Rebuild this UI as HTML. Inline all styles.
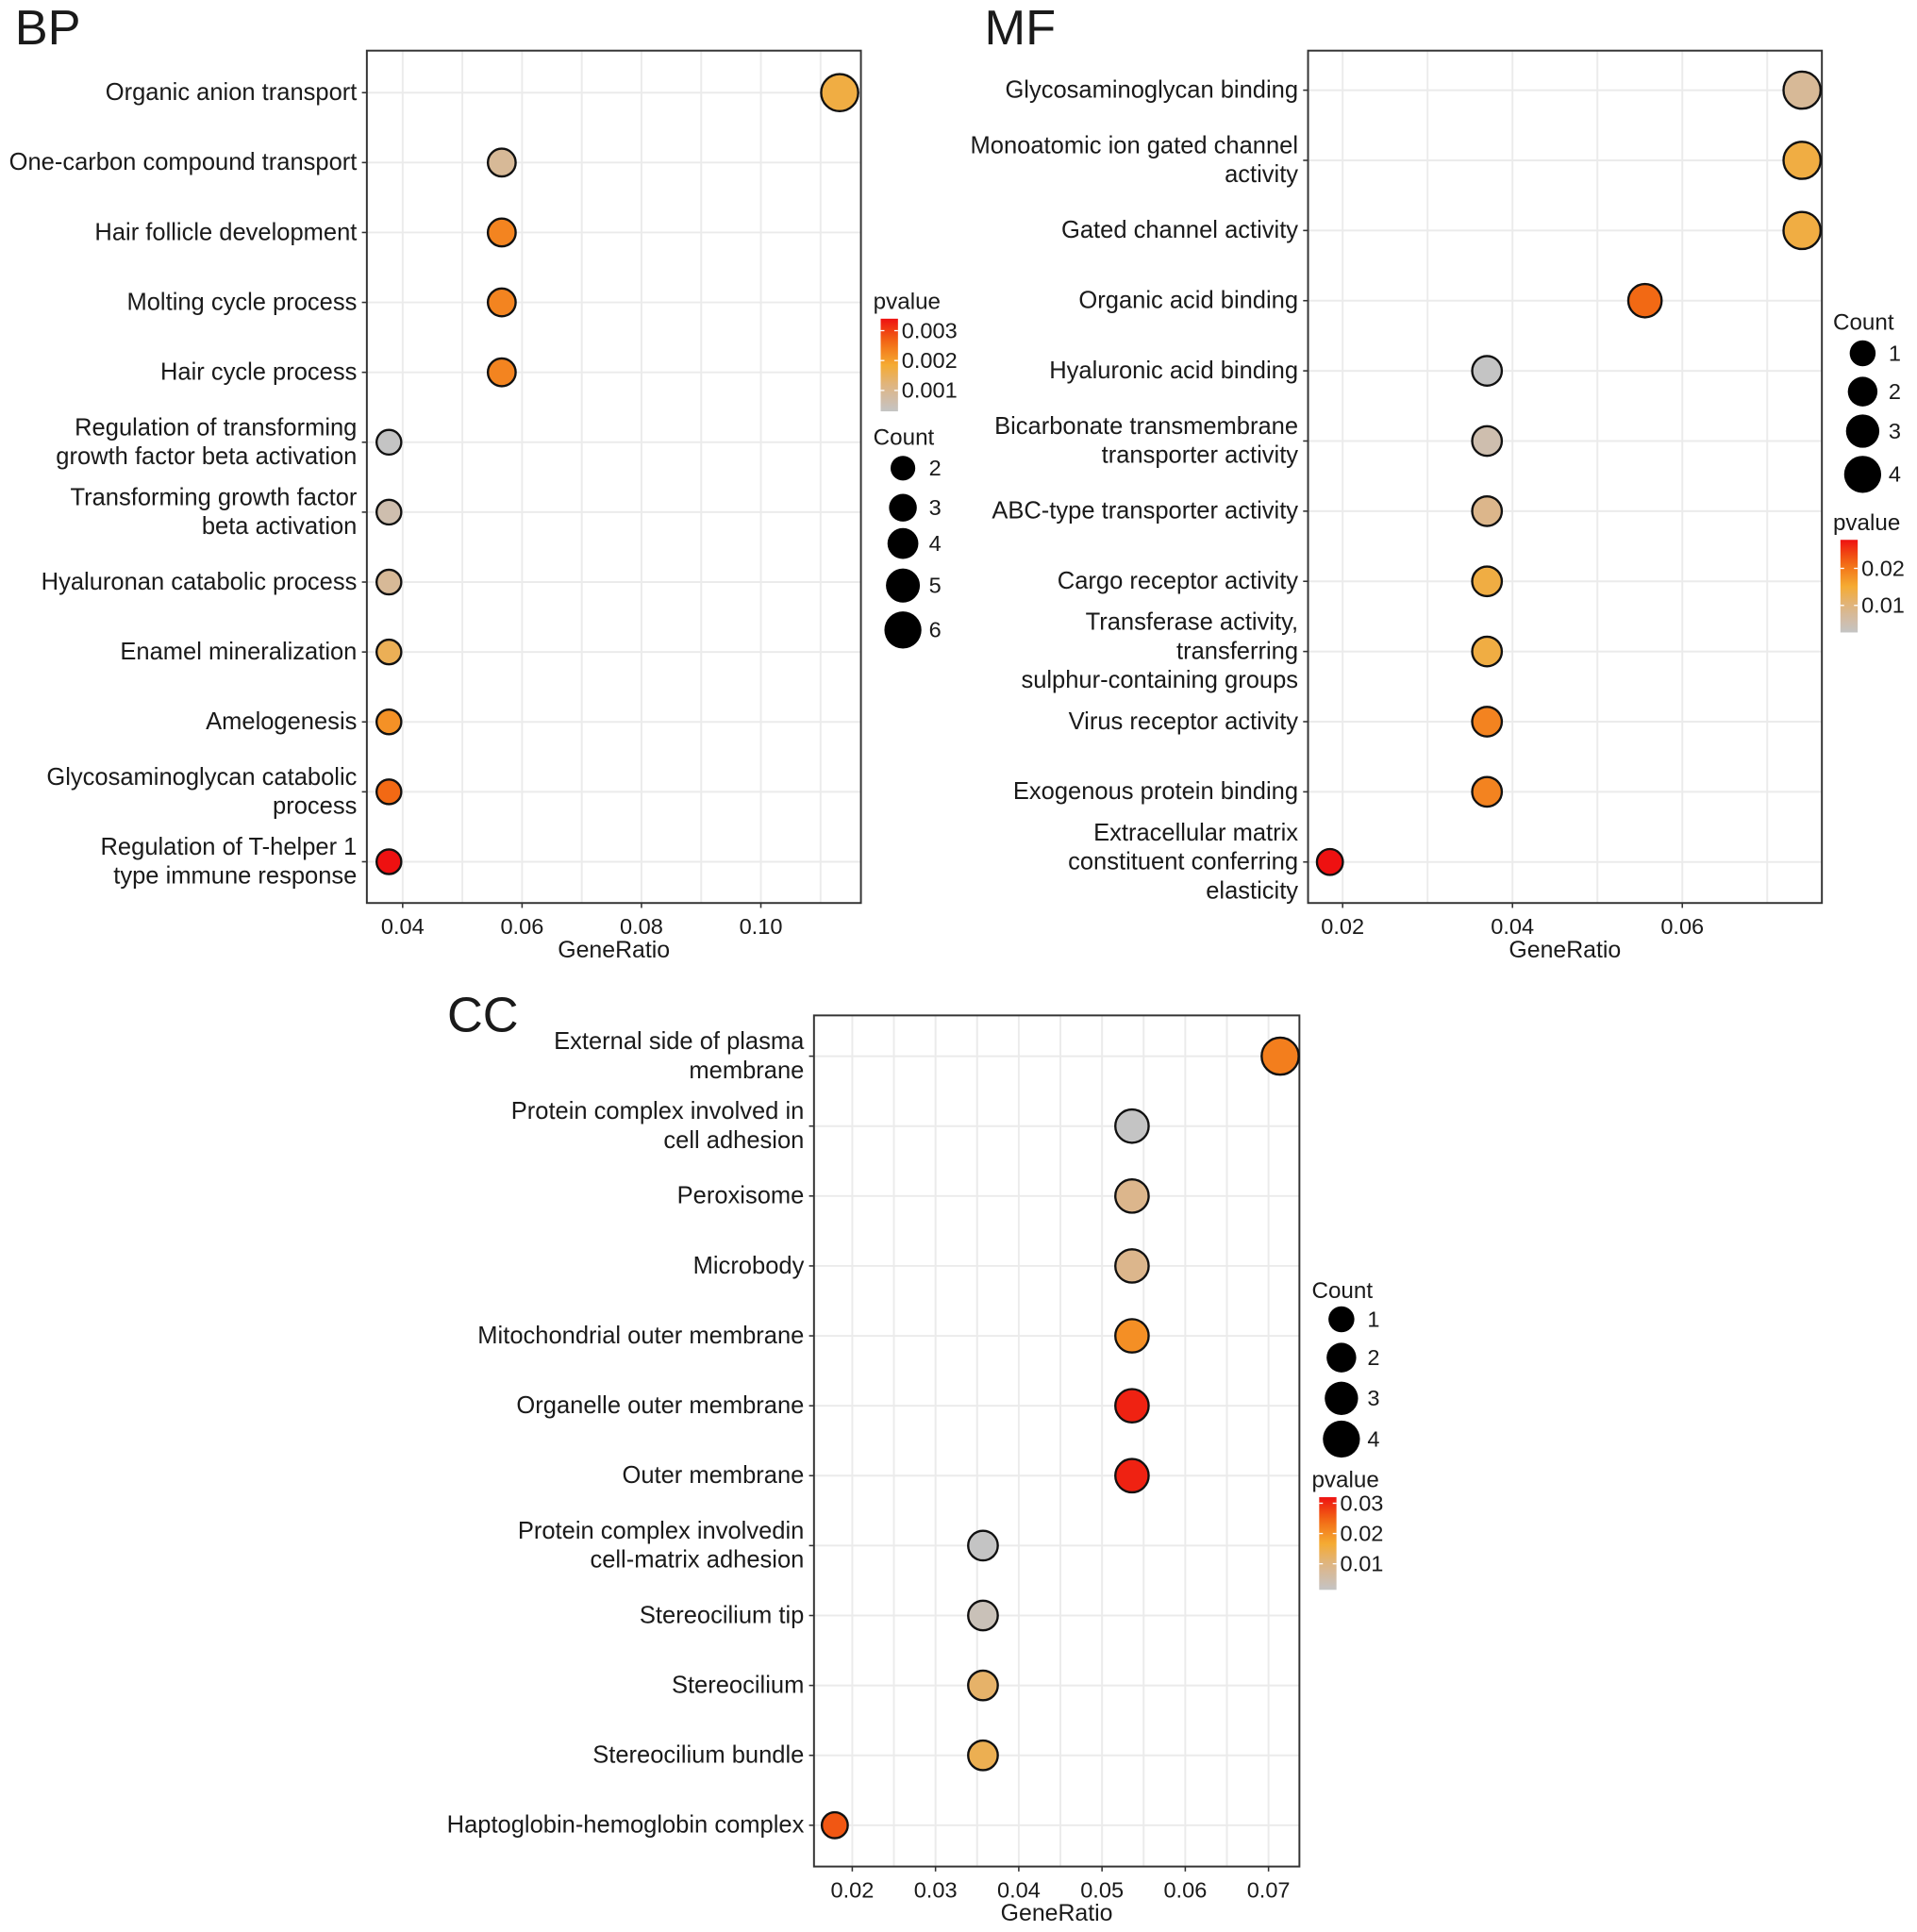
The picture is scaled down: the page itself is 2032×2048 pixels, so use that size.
<!DOCTYPE html>
<html><head><meta charset="utf-8"><style>
html,body{margin:0;padding:0;background:#fff}
svg{display:block}
text{font-family:"Liberation Sans",Arial,sans-serif;fill:#1a1a1a}
</style></head><body>
<svg id="chart" width="2032" height="2048" viewBox="0 0 1552 1564" preserveAspectRatio="none" xmlns="http://www.w3.org/2000/svg"></svg>
<script>
// ---- BP data ----
const bpTerms = [["Organic anion transport"],["One-carbon compound transport"],["Hair follicle development"],["Molting cycle process"],["Hair cycle process"],["Regulation of transforming","growth factor beta activation"],["Transforming growth factor","beta activation"],["Hyaluronan catabolic process"],["Enamel mineralization"],["Amelogenesis"],["Glycosaminoglycan catabolic","process"],["Regulation of T-helper 1","type immune response"]];
const bpRatio = [0.1132,0.0566,0.0566,0.0566,0.0566,0.0377,0.0377,0.0377,0.0377,0.0377,0.0377,0.0377];
const bpCount = [6,3,3,3,3,2,2,2,2,2,2,2];
const bpP = [0.00170,0.00092,0.00232,0.00232,0.00232,0.00030,0.00061,0.00092,0.00154,0.00216,0.00263,0.00340];
const bpTicks = [0.04,0.06,0.08,0.10];
const bpTickLabels = ["0.04","0.06","0.08","0.10"];
// ---- MF data ----
const mfTerms = [["Glycosaminoglycan binding"],["Monoatomic ion gated channel","activity"],["Gated channel activity"],["Organic acid binding"],["Hyaluronic acid binding"],["Bicarbonate transmembrane","transporter activity"],["ABC-type transporter activity"],["Cargo receptor activity"],["Transferase activity,","transferring","sulphur-containing groups"],["Virus receptor activity"],["Exogenous protein binding"],["Extracellular matrix","constituent conferring","elasticity"]];
const mfRatio = [0.0741,0.0741,0.0741,0.0556,0.0370,0.0370,0.0370,0.0370,0.0370,0.0370,0.0370,0.0185];
const mfCount = [4,4,4,3,2,2,2,2,2,2,2,1];
const mfP = [0.0077,0.0140,0.0140,0.0215,0.0027,0.0052,0.0090,0.0140,0.0140,0.0190,0.0190,0.0277];
const mfTicks = [0.02,0.04,0.06];
const mfTickLabels = ["0.02","0.04","0.06"];
// ---- CC data ----
const ccTerms = [["External side of plasma","membrane"],["Protein complex involved in","cell adhesion"],["Peroxisome"],["Microbody"],["Mitochondrial outer membrane"],["Organelle outer membrane"],["Outer membrane"],["Protein complex involvedin","cell-matrix adhesion"],["Stereocilium tip"],["Stereocilium"],["Stereocilium bundle"],["Haptoglobin-hemoglobin complex"]];
const ccRatio = [0.0714,0.0536,0.0536,0.0536,0.0536,0.0536,0.0536,0.0357,0.0357,0.0357,0.0357,0.0179];
const ccCount = [4,3,3,3,3,3,3,2,2,2,2,1];
const ccP = [0.0220,0.0014,0.0090,0.0090,0.0200,0.0305,0.0305,0.0014,0.0030,0.0120,0.0140,0.0260];
const ccTicks = [0.02,0.03,0.04,0.05,0.06,0.07];
const ccTickLabels = ["0.02","0.03","0.04","0.05","0.06","0.07"];

const NS="http://www.w3.org/2000/svg";
const svg=document.getElementById('chart');
function mk(tag,attrs,parent){const e=document.createElementNS(NS,tag);for(const k in attrs)e.setAttribute(k,attrs[k]);(parent||svg).appendChild(e);return e;}
const stops=[[0,[196,196,196]],[0.25,[220,182,140]],[0.5,[245,171,50]],[0.75,[242,106,20]],[1,[238,17,17]]];
function ramp(f){f=Math.max(0,Math.min(1,f));for(let i=1;i<stops.length;i++){if(f<=stops[i][0]){const a=stops[i-1],b=stops[i];const t=(f-a[0])/(b[0]-a[0]);const c=a[1].map((v,j)=>Math.round(v+(b[1][j]-v)*t));return `rgb(${c.join(',')})`;}}return 'rgb(238,17,17)';}

function panel(o){
  const g=mk('g',{});
  
  
  const xs=v=>o.x0+(v-o.d0)*(o.x1-o.x0)/(o.d1-o.d0);
  const rowY=i=>o.yTop+i*o.step;
  const rs=c=>o.r0+(c-o.c0)*o.rk;
  const mid=(o.ticks[1]-o.ticks[0])/2;
  for(let v=o.ticks[0]-mid*2;v<=o.ticks[o.ticks.length-1]+mid*2+1e-9;v+=mid){
    const x=xs(v); if(x<o.px0||x>o.px1) continue;
    const l=mk('line',{x1:x,x2:x,y1:o.py0,y2:o.py1,stroke:'#ebebeb','stroke-width':1.5},g);
    
  }
  for(let i=0;i<o.terms.length;i++){
    const l=mk('line',{x1:o.px0,x2:o.px1,y1:rowY(i),y2:rowY(i),stroke:'#ebebeb','stroke-width':1.5},g);
    
  }
  const fr=mk('rect',{x:o.px0,y:o.py0,width:o.px1-o.px0,height:o.py1-o.py0,fill:'none',stroke:'#333','stroke-width':1.5},g);
  
  o.ticks.forEach((v,i)=>{
    const x=xs(v);
    mk('line',{x1:x,x2:x,y1:o.py1,y2:o.py1+4,stroke:'#333','stroke-width':1.2},g);
    const t=mk('text',{x:x,y:o.py1+25,'text-anchor':'middle','font-size':18,fill:'#333'},g);
    t.textContent=o.tickLabels[i];
    
  });
  const at=mk('text',{x:(o.px0+o.px1)/2,y:o.py1+44,'text-anchor':'middle','font-size':19},g);
  at.textContent='GeneRatio';
  
  o.terms.forEach((lines,i)=>{
    const y=rowY(i);
    mk('line',{x1:o.px0-4,x2:o.px0,y1:y,y2:y,stroke:'#333','stroke-width':1.2},g);
    const n=lines.length;
    lines.forEach((s,k)=>{
      const t=mk('text',{x:o.px0-8,y:y+6+(k-(n-1)/2)*23.5,'text-anchor':'end','font-size':19.5},g);
      t.textContent=s;
      
    });
  });
  o.terms.forEach((_,i)=>{
    const c=mk('circle',{cx:xs(o.ratio[i]),cy:rowY(i),r:rs(o.count[i]),fill:ramp((o.p[i]-o.pmin)/(o.pmax-o.pmin)),stroke:'#111','stroke-width':1.8},g);
    
  });
  const pl=mk('text',{x:o.lx,y:o.ly,'font-size':40},g);
  pl.textContent=o.label;
  
  return g;
}
function pLegend(g,x,y,pmin,pmax,vals,name){
  const id='grad'+name;
  const d=mk('defs',{},g);const lg=mk('linearGradient',{id:id,x1:0,y1:1,x2:0,y2:0},d);
  for(let i=0;i<=10;i++)mk('stop',{offset:i/10,'stop-color':ramp(i/10)},lg);
  const t=mk('text',{x:x-6,y:y,'font-size':18.5},g);t.textContent='pvalue';
  
  const by0=y+8,by1=y+83;
  const r=mk('rect',{x:x,y:by0,width:14,height:by1-by0,fill:`url(#${id})`},g);
  
  vals.forEach(v=>{const yy=by1-(v-pmin)/(pmax-pmin)*(by1-by0);
    mk('line',{x1:x,x2:x+3,y1:yy,y2:yy,stroke:'#fff'},g);mk('line',{x1:x+11,x2:x+14,y1:yy,y2:yy,stroke:'#fff'},g);
    const l=mk('text',{x:x+17,y:yy+6,'font-size':18},g);l.textContent=String(v);
    });
}
function cLegend(g,x,y,counts,ys,rfn){
  const t=mk('text',{x:x-24,y:y,'font-size':18.5},g);t.textContent='Count';
  
  counts.forEach((c,i)=>{const ci=mk('circle',{cx:x,cy:ys[i],r:rfn(c),fill:'#000'},g);
    
    const l=mk('text',{x:x+21,y:ys[i]+6,'font-size':18},g);l.textContent=String(c);
    });
}
const bp=panel({name:'bp',label:'BP',lx:12,ly:36,terms:bpTerms,ratio:bpRatio,count:bpCount,p:bpP,ticks:bpTicks,tickLabels:bpTickLabels,
  px0:297,px1:697,py0:41,py1:731,x0:326,x1:616,d0:0.04,d1:0.10,yTop:75,step:56.6,r0:10,c0:2,rk:1.25,pmin:0.0003,pmax:0.0034});
pLegend(bp,713,250,0.0003,0.0034,[0.003,0.002,0.001],'bp');
cLegend(bp,731,360,[2,3,4,5,6],[379,411,440,474,510],c=>10+(c-2)*1.25);
const mf=panel({name:'mf',label:'MF',lx:797,ly:36,terms:mfTerms,ratio:mfRatio,count:mfCount,p:mfP,ticks:mfTicks,tickLabels:mfTickLabels,
  px0:1059,px1:1475,py0:41,py1:731,x0:1087,x1:1362,d0:0.02,d1:0.06,yTop:73,step:56.8,r0:10.5,c0:1,rk:1.5,pmin:0.0027,pmax:0.0277});
pLegend(mf,1490,429,0.0027,0.0277,[0.02,0.01],'mf');
cLegend(mf,1508,267,[1,2,3,4],[286,317,349,384],c=>10.5+(c-1)*1.5);
const cc=panel({name:'cc',label:'CC',lx:362,ly:835,terms:ccTerms,ratio:ccRatio,count:ccCount,p:ccP,ticks:ccTicks,tickLabels:ccTickLabels,
  px0:659,px1:1052,py0:822,py1:1511,x0:690,x1:1027,d0:0.02,d1:0.07,yTop:855,step:56.6,r0:10.5,c0:1,rk:1.5,pmin:0.0014,pmax:0.032});
pLegend(cc,1068,1204,0.0014,0.032,[0.03,0.02,0.01],'cc');
cLegend(cc,1086,1051,[1,2,3,4],[1068,1099,1132,1165],c=>10.5+(c-1)*1.5);
</script>
</body></html>
